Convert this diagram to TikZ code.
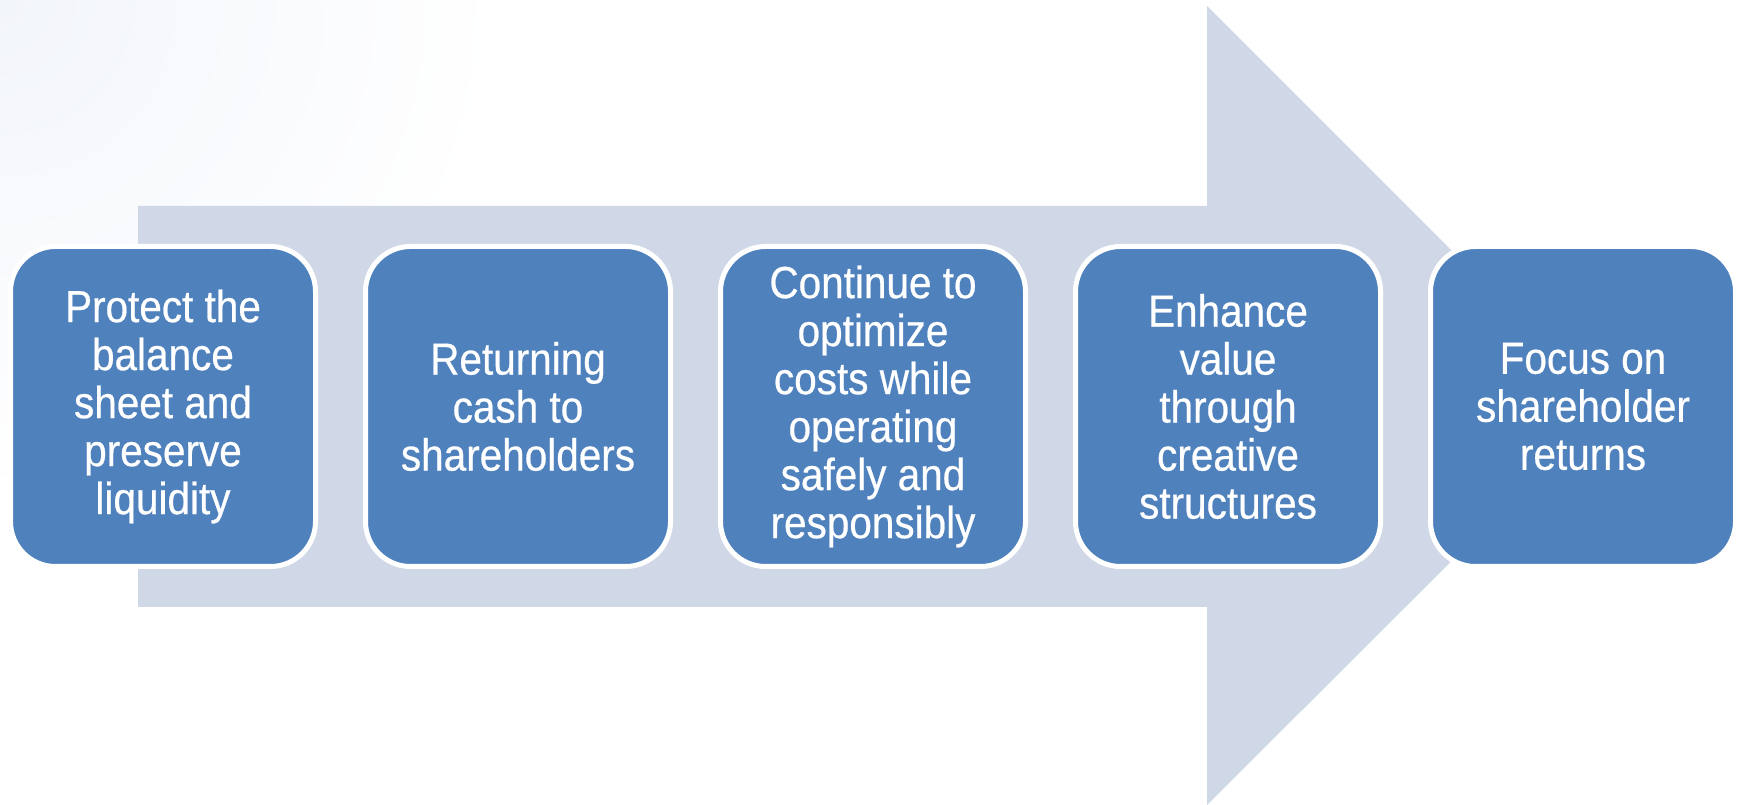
\documentclass[tikz,border=0pt]{standalone}
\usepackage{fontspec}
\setmainfont[FakeStretch=0.9,FakeBold=0.5]{Liberation Sans}
\usepackage{xcolor}
\usepackage{tikz}
\usetikzlibrary{positioning}
\definecolor{caixa}{HTML}{4F81BD}
\definecolor{seta}{HTML}{D0D8E8}
\definecolor{brilho}{HTML}{F2F5FA}

\begin{document}
\begin{tikzpicture}[x=1pt,y=1pt,
  etapa/.style={fill=caixa, draw=white, line width=5pt, rounded corners=45pt,
    minimum width=305pt, minimum height=320pt, inner sep=0pt,
    text=white, align=center, font=\fontsize{45}{48}\selectfont}]

\useasboundingbox (0,0) rectangle (1737,805);

% Brilho suave no canto
\begin{scope}
\clip (0,0) rectangle (1737,805);
\shade[inner color=brilho, outer color=white] (0,805) circle (500);
\end{scope}

% Seta larga ao fundo
\fill[seta] (138,198) -- (1207,198) -- (1207,0) -- (1607,399) -- (1207,799) -- (1207,599) -- (138,599) -- cycle;

% Etapas
\node[etapa] (protect) at (163,398.5) {Protect the\\balance\\sheet and\\preserve\\liquidity};
\node[etapa] (cash) at (518,398.5) {Returning\\cash to\\shareholders};
\node[etapa] (costs) at (873,398.5) {Continue to\\optimize\\costs while\\operating\\safely and\\responsibly};
\node[etapa] (value) at (1228,398.5) {Enhance\\value\\through\\creative\\structures};
\node[etapa] (returns) at (1583,398.5) {Focus on\\shareholder\\returns};

\end{tikzpicture}
\end{document}
